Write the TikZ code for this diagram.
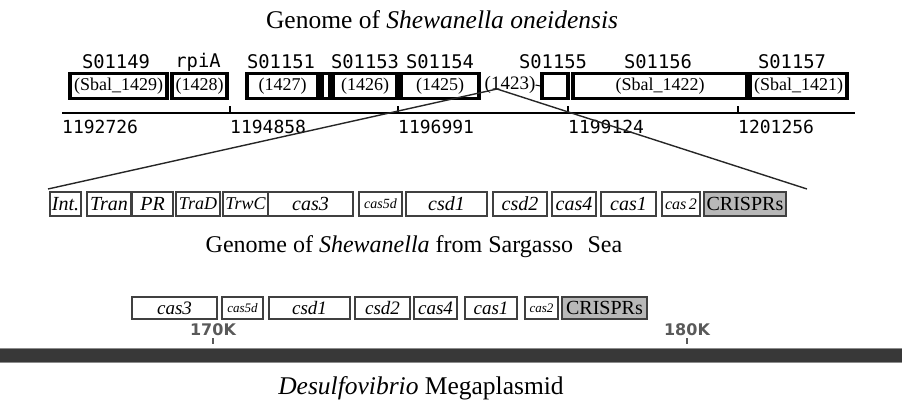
\documentclass[tikz,border=0pt]{standalone}
\usepackage{fontspec}
\setmainfont{Liberation Serif}
\newfontfamily\dotmono{DejaVu Sans Mono}
\newfontfamily\tickfont{DejaVu Sans}
\begin{document}
\begin{tikzpicture}[x=1pt,y=-1pt,
  tbox/.style={draw=black,line width=3.2pt,inner sep=0pt,minimum height=25pt,
     font=\fontsize{18}{18}\selectfont},
  gbox/.style={draw=black!75,line width=1.4pt,inner sep=0pt,minimum height=24pt,
     font=\fontsize{20}{20}\selectfont\itshape},
  bbox/.style={draw=black!75,line width=1.4pt,inner sep=0pt,minimum height=22pt,
     font=\fontsize{19}{19}\selectfont\itshape},
  crisp/.style={fill=black!28},
  glabel/.style={font=\dotmono\fontsize{18.8}{18.8}\selectfont,inner sep=0pt},
  numlabel/.style={font=\dotmono\fontsize{18}{18}\selectfont,inner sep=0pt,anchor=west},
  klabel/.style={font=\tickfont\bfseries\fontsize{16}{16}\selectfont,text=black!65,inner sep=0pt},
  zoomline/.style={line width=1.4pt,black!85}]
\useasboundingbox (0,0) rectangle (902,401);

% title
\node[font=\fontsize{25.5}{25.5}\selectfont,inner sep=0pt] (t1) at (442,20) {Genome of \textit{Shewanella oneidensis}};

% gene names
\node[glabel] (n1) at (116,62) {S01149};
\node[glabel] (n2) at (198,62) {rpiA};
\node[glabel] (n3) at (281,62) {S01151};
\node[glabel] (n4) at (365,62) {S01153};
\node[glabel] (n5) at (440,62) {S01154};
\node[glabel] (n6) at (553,62) {S01155};
\node[glabel] (n7) at (658,62) {S01156};
\node[glabel] (n8) at (792,62) {S01157};

% top boxes
\node[tbox,minimum width=97pt] (b1429) at (118.5,86) {(Sbal\_1429)};
\node[tbox,minimum width=55pt] (b1428) at (199.5,86) {(1428)};
\node[tbox,minimum width=71pt] (b1427) at (282.5,86) {(1427)};
\node[tbox,minimum width=8pt] (bsm) at (326,86) {};
\node[tbox,minimum width=64pt] (b1426) at (365,86) {(1426)};
\node[tbox,minimum width=78pt] (b1425) at (440,86) {(1425)};
\node[font=\fontsize{19}{19}\selectfont,inner sep=0pt] (b1423) at (510,85) {(1423)};
\node[tbox,minimum width=26pt] (bsq) at (555,86) {};
\node[tbox,minimum width=174pt] (b1422) at (660,86) {(Sbal\_1422)};
\node[tbox,minimum width=97pt] (b1421) at (798.5,86) {(Sbal\_1421)};
\draw[line width=1pt] (b1423.east) -- (bsq.west);

% axis
\coordinate (ax0) at (62,113);
\coordinate (ax1) at (855,113);
\draw[line width=2.6pt] (ax0) -- (ax1);
\foreach \x in {230,398,568,738} \draw[line width=1.3pt] (\x,113) -- (\x,106);
\node[numlabel] (p1) at (62,127) {1192726};
\node[numlabel] (p2) at (230,127) {1194858};
\node[numlabel] (p3) at (398,127) {1196991};
\node[numlabel] (p4) at (568,127) {1199124};
\node[numlabel] (p5) at (738,127) {1201256};

% Sargasso row
\node[gbox,minimum width=31pt] (g1) at (65.5,204) {Int.};
\node[gbox,minimum width=44pt] (g2) at (109,204) {Tran};
\node[gbox,minimum width=41pt] (g3) at (152.5,204) {PR};
\node[gbox,minimum width=44pt,font=\fontsize{18}{18}\selectfont\itshape] (g4) at (198,204) {TraD};
\node[gbox,minimum width=45pt,font=\fontsize{18}{18}\selectfont\itshape] (g5) at (245.5,204) {TrwC};
\node[gbox,minimum width=85pt] (g6) at (310.5,204) {cas3};
\node[gbox,minimum width=43pt,font=\fontsize{14}{14}\selectfont\itshape] (g7) at (380.5,204) {cas5d};
\node[gbox,minimum width=81pt] (g8) at (446.5,204) {csd1};
\node[gbox,minimum width=54pt] (g9) at (520,204) {csd2};
\node[gbox,minimum width=44pt] (g10) at (574,204) {cas4};
\node[gbox,minimum width=55pt] (g11) at (628.5,204) {cas1};
\node[gbox,minimum width=38pt,font=\fontsize{16}{16}\selectfont\itshape] (g12) at (681,204) {cas\,2};
\node[gbox,crisp,minimum width=82pt,font=\fontsize{20}{20}\selectfont] (g13) at (745,204) {CRISPRs};

% zoom lines
\coordinate (apex) at (497,89);
\coordinate (zl) at (48,189);
\coordinate (zr) at (807,189);
\draw[zoomline] (apex) -- (zl);
\draw[zoomline] (apex) -- (zr);

\node[font=\fontsize{24}{24}\selectfont,inner sep=0pt] (t2) at (414,247) {Genome of \textit{Shewanella} from Sargasso\hspace{0.35em} Sea};

% Desulfovibrio row
\node[bbox,minimum width=85pt] (d1) at (174.5,308) {cas3};
\node[bbox,minimum width=41pt,font=\fontsize{13}{13}\selectfont\itshape] (d2) at (242.5,308) {cas5d};
\node[bbox,minimum width=81pt] (d3) at (309.5,308) {csd1};
\node[bbox,minimum width=55pt] (d4) at (382.5,308) {csd2};
\node[bbox,minimum width=43pt] (d5) at (435.5,308) {cas4};
\node[bbox,minimum width=52pt] (d6) at (491,308) {cas1};
\node[bbox,minimum width=33pt,font=\fontsize{13}{13}\selectfont\itshape] (d7) at (541.5,308) {cas2};
\node[bbox,crisp,minimum width=85pt,font=\fontsize{20}{20}\selectfont] (d8) at (604.5,308) {CRISPRs};

% plasmid bar
\fill[black!78] (0,348) rectangle (902,362);
\draw[black!45,line width=0.8pt] (0,348) -- (902,348) (0,362) -- (902,362);
\node[klabel] (k1) at (213,330) {170K};
\node[klabel] (k2) at (687,330) {180K};
\draw[black!65,line width=1.5pt] (213,338) -- (213,344);
\draw[black!65,line width=1.5pt] (687,338) -- (687,344);

\node[font=\fontsize{25.5}{25.5}\selectfont,inner sep=0pt] (t3) at (421,388) {\textit{Desulfovibrio} Megaplasmid};
\end{tikzpicture}
\end{document}
